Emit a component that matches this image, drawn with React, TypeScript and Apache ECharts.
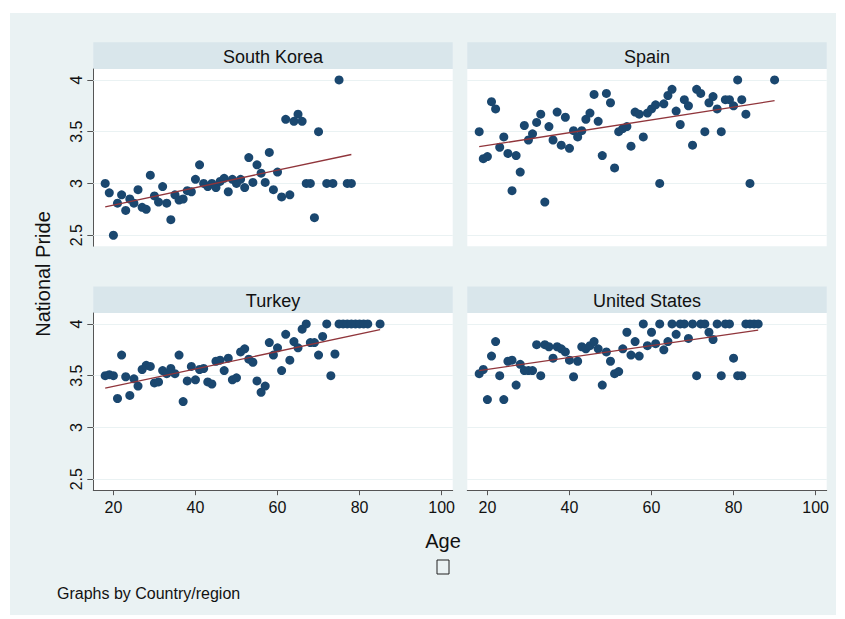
import React, { useEffect, useRef } from "react";
import * as echarts from "echarts";

const panelTitles = ["South Korea", "Spain", "Turkey", "United States"];
const xTicks = [20, 40, 60, 80, 100];
const yTicks = [2.5, 3, 3.5, 4];

const koreaAge = [18,19,20,21,22,23,24,25,26,27,28,29,30,31,32,33,34,35,36,37,38,39,40,41,42,43,44,45,46,47,48,49,50,51,52,53,54,55,56,57,58,59,60,61,62,63,64,65,66,67,68,69,70,72,73.5,75,77,78];
const koreaPride = [3.0,2.91,2.5,2.81,2.89,2.74,2.85,2.81,2.94,2.77,2.75,3.08,2.88,2.82,2.97,2.81,2.65,2.89,2.84,2.85,2.93,2.92,3.04,3.18,3.0,2.97,3.0,2.96,3.02,3.05,2.92,3.04,3.0,3.04,2.96,3.25,3.01,3.18,3.1,3.01,3.3,2.94,3.11,2.87,3.62,2.89,3.6,3.67,3.6,3.0,3.0,2.67,3.5,3.0,3.0,4.0,3.0,3.0];

const spainAge = [18,19,20,21,22,23,24,25,26,27,28,29,30,31,32,33,34,35,36,37,38,39,40,41,42,43,44,45,46,47,48,49,50,51,52,53,54,55,56,57,58,59,60,61,62,63,64,65,66,67,68,69,70,71,72,73,74,75,76,77,78,79,80,81,82,83,84,90];
const spainPride = [3.5,3.24,3.26,3.79,3.72,3.35,3.45,3.29,2.93,3.27,3.11,3.56,3.42,3.48,3.59,3.67,2.82,3.55,3.42,3.69,3.37,3.64,3.34,3.51,3.45,3.51,3.62,3.68,3.86,3.6,3.27,3.87,3.78,3.15,3.5,3.53,3.55,3.36,3.69,3.67,3.45,3.68,3.72,3.76,3.0,3.77,3.85,3.91,3.7,3.57,3.81,3.75,3.37,3.91,3.87,3.5,3.78,3.84,3.72,3.5,3.81,3.81,3.75,4.0,3.81,3.67,3.0,4.0];

const turkeyAge = [18,19,20,21,22,23,24,25,26,27,28,29,30,31,32,33,34,35,36,37,38,39,40,41,42,43,44,45,46,47,48,49,50,51,52,53,54,55,56,57,58,59,60,61,62,63,64,65,66,67,68,69,70,71,72,73,74,75,76,77,78,79,80,81,82,85];
const turkeyPride = [3.5,3.51,3.5,3.28,3.7,3.49,3.31,3.47,3.4,3.56,3.6,3.59,3.43,3.44,3.55,3.52,3.57,3.52,3.7,3.25,3.45,3.59,3.46,3.56,3.57,3.44,3.42,3.64,3.65,3.55,3.67,3.46,3.48,3.73,3.76,3.66,3.63,3.45,3.34,3.4,3.82,3.7,3.77,3.55,3.9,3.65,3.83,3.77,3.95,4.0,3.82,3.82,3.7,3.88,4.0,3.5,3.71,4.0,4.0,4.0,4.0,4.0,4.0,4.0,4.0,4.0];

const usAge = [18,19,20,21,22,23,24,25,26,27,28,29,30,31,32,33,34,35,36,37,38,39,40,41,42,43,44,45,46,47,48,49,50,51,52,53,54,55,56,57,58,59,60,61,62,63,64,65,66,67,68,69,70,71,72,73,74,75,76,77,78,79,80,81,82,83,84,85,86];
const usPride = [3.52,3.56,3.27,3.69,3.83,3.5,3.27,3.64,3.65,3.41,3.61,3.55,3.55,3.55,3.8,3.5,3.8,3.78,3.67,3.78,3.76,3.73,3.65,3.49,3.64,3.78,3.76,3.79,3.83,3.76,3.41,3.73,3.64,3.52,3.54,3.76,3.92,3.7,3.83,3.69,4.0,3.79,3.92,3.81,4.0,3.75,3.83,4.0,3.9,4.0,4.0,3.86,4.0,3.5,4.0,4.0,3.92,3.85,4.0,3.5,4.0,4.0,3.67,3.5,3.5,4.0,4.0,4.0,4.0];

// fitted line end points [age, pride]
const koreaFit = [[18, 2.775], [78, 3.28]];
const spainFit = [[18, 3.355], [90, 3.8]];
const turkeyFit = [[18, 3.38], [85, 3.945]];
const usFit = [[18, 3.55], [86, 3.94]];

const FONT = "Helvetica, 'Liberation Sans', Arial, sans-serif";
const BG = "#eaf2f3";
const HEAD = "#d9e6eb";
const DOT = "#1a476f";
const FIT = "#90353b";
const AXIS = "#555555";

export default function App() {
  const ref = useRef<HTMLDivElement>(null);
  useEffect(() => {
    if (!ref.current) return;
    const chart = echarts.init(ref.current, undefined, { renderer: "svg" });

    const panels = [
      { age: koreaAge, val: koreaPride, fit: koreaFit },
      { age: spainAge, val: spainPride, fit: spainFit },
      { age: turkeyAge, val: turkeyPride, fit: turkeyFit },
      { age: usAge, val: usPride, fit: usFit },
    ];
    const W = 359.4;
    const H = 177.2;
    const lefts = [93.3, 467.3, 93.3, 467.3];
    const tops = [69, 69, 313, 313];

    const grids = panels.map((_, i) => ({
      left: lefts[i],
      top: tops[i],
      width: W,
      height: H,
      show: true,
      backgroundColor: "#ffffff",
      borderWidth: 0,
      containLabel: false,
    }));

    const xAxes = panels.map((_, i) => {
      const bottom = i >= 2;
      return {
        gridIndex: i,
        type: "value",
        min: 15.1,
        max: 102.7,
        show: bottom,
        axisLine: { show: bottom, onZero: false, lineStyle: { color: AXIS, width: 1 } },
        axisTick: { show: bottom, length: 5, customValues: xTicks, lineStyle: { color: AXIS } },
        axisLabel: {
          show: bottom,
          customValues: xTicks,
          margin: 9,
          fontSize: 16,
          fontFamily: FONT,
          color: "#111",
        },
        splitLine: { show: false },
      };
    });

    const yAxes = panels.map((_, i) => {
      const left = i % 2 === 0;
      return {
        gridIndex: i,
        type: "value",
        min: 2.394,
        max: 4.106,
        show: left,
        axisLine: { show: left, onZero: false, lineStyle: { color: AXIS, width: 1 } },
        axisTick: { show: left, length: 6, customValues: yTicks, lineStyle: { color: AXIS } },
        axisLabel: {
          show: left,
          customValues: yTicks,
          rotate: 90,
          margin: 9,
          fontSize: 16,
          fontFamily: FONT,
          color: "#111",
        },
        splitLine: { show: false },
      };
    });

    const series: any[] = [];
    panels.forEach((p, i) => {
      series.push({
        type: "line",
        xAxisIndex: i,
        yAxisIndex: i,
        data: [],
        z: 1,
        silent: true,
        markLine: {
          silent: true,
          z: 1,
          symbol: ["none", "none"],
          label: { show: false },
          lineStyle: { color: BG, type: "solid", width: 1.2 },
          emphasis: { disabled: true },
          data: yTicks.map((v) => ({ yAxis: v })),
        },
      });
      series.push({
        type: "scatter",
        xAxisIndex: i,
        yAxisIndex: i,
        symbolSize: 9,
        z: 2,
        itemStyle: { color: DOT, opacity: 1 },
        data: p.age.map((a, k) => [a, p.val[k]]),
      });
      series.push({
        type: "line",
        xAxisIndex: i,
        yAxisIndex: i,
        z: 3,
        showSymbol: false,
        symbol: "none",
        lineStyle: { color: FIT, width: 1.3 },
        data: p.fit,
      });
    });

    const headerTops = [42.3, 42.3, 286.5, 286.5];
    const graphics: any[] = [
      {
        type: "rect",
        z: -100,
        shape: { x: 10, y: 13, width: 826, height: 602 },
        style: { fill: BG },
        silent: true,
      },
    ];
    panels.forEach((_, i) => {
      graphics.push({
        type: "rect",
        z: -50,
        shape: { x: lefts[i], y: headerTops[i], width: W, height: tops[i] - headerTops[i] },
        style: { fill: HEAD },
        silent: true,
      });
      graphics.push({
        type: "text",
        z: 10,
        x: lefts[i] + W / 2,
        y: headerTops[i] + (tops[i] - headerTops[i]) / 2 + 1,
        style: {
          text: panelTitles[i],
          fontSize: 18,
          fontFamily: FONT,
          fill: "#111",
          textAlign: "center",
          textVerticalAlign: "middle",
        },
        silent: true,
      });
    });
    graphics.push(
      {
        type: "text",
        z: 10,
        x: 443,
        y: 541,
        style: { text: "Age", fontSize: 20, fontFamily: FONT, fill: "#111", textAlign: "center", textVerticalAlign: "middle" },
      },
      {
        type: "rect",
        z: 10,
        shape: { x: 437, y: 560, width: 12, height: 14 },
        style: { fill: "none", stroke: "#222", lineWidth: 1 },
      },
      {
        type: "text",
        z: 10,
        x: 43,
        y: 274,
        rotation: Math.PI / 2,
        style: { text: "National Pride", fontSize: 20, fontFamily: FONT, fill: "#111", textAlign: "center", textVerticalAlign: "middle" },
      },
      {
        type: "text",
        z: 10,
        x: 57,
        y: 593,
        style: { text: "Graphs by Country/region", fontSize: 16, fontFamily: FONT, fill: "#111", textAlign: "left", textVerticalAlign: "middle" },
      }
    );

    chart.setOption({
      animation: false,
      backgroundColor: "#ffffff",
      grid: grids,
      xAxis: xAxes,
      yAxis: yAxes,
      series,
      graphic: graphics,
    });
    return () => chart.dispose();
  }, []);

  return (
    <div
      ref={ref}
      style={{ position: "absolute", left: 0, top: 0, width: 845, height: 619 }}
    />
  );
}
